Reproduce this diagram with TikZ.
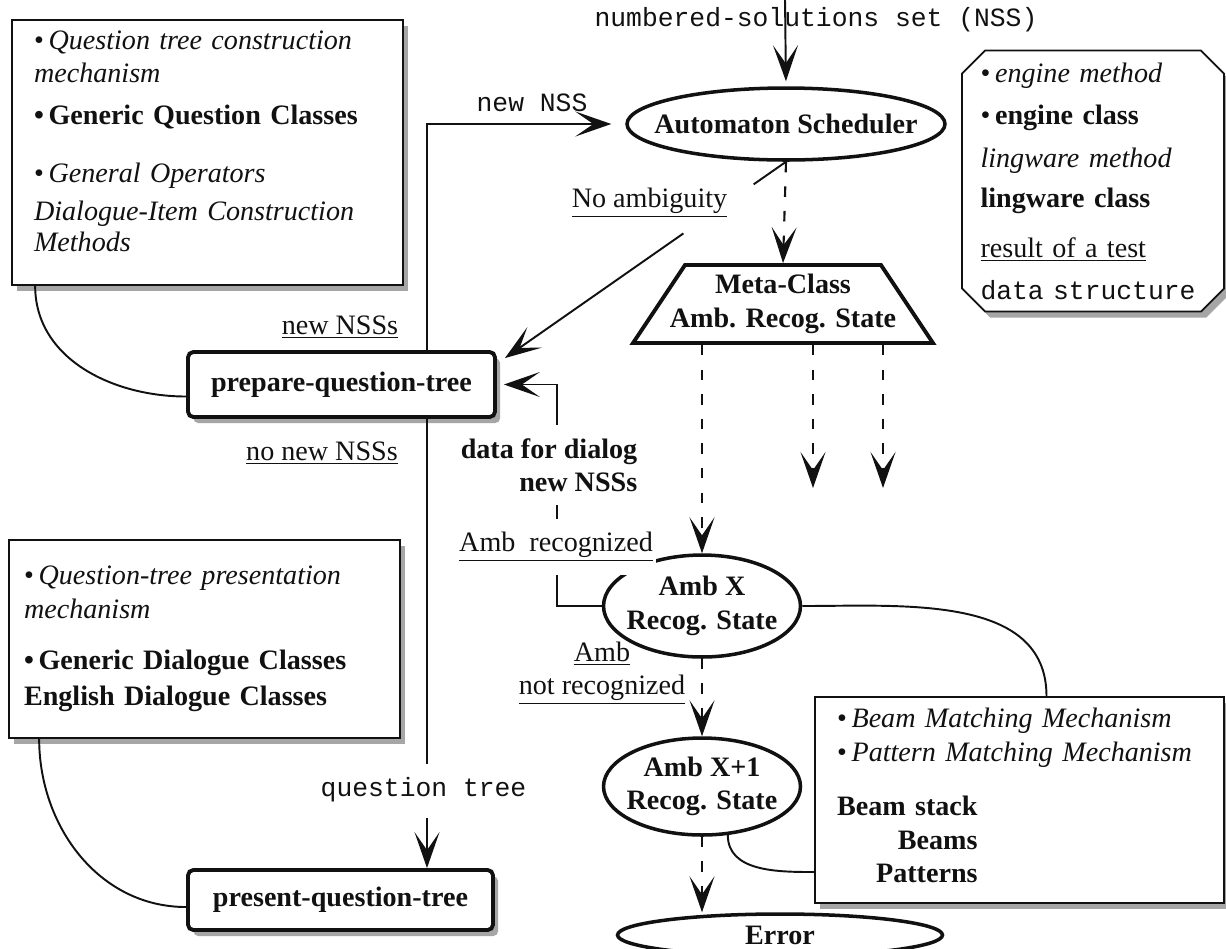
\documentclass[tikz,border=0pt]{standalone}
\usepackage{fontspec}
\setmainfont{Liberation Serif}
\setmonofont{Liberation Mono}
\usetikzlibrary{arrows.meta,calc,positioning,shapes.geometric,shapes.misc,shadows}
\definecolor{inkBlack}{HTML}{111111}
\definecolor{shadowGrey}{HTML}{a6a6a6}

\tikzset{
  txt/.style={font=\fontsize{16}{19}\selectfont, text=inkBlack},
  boldTxt/.style={font=\fontsize{16}{19}\selectfont\bfseries, text=inkBlack},
  monoTxt/.style={font=\fontsize{15}{18}\selectfont\ttfamily, text=inkBlack, inner sep=1pt},
  boxShadow/.style={drop shadow={shadow xshift=3pt, shadow yshift=-3.5pt, opacity=1, fill=shadowGrey}},
  noteBox/.style={txt, draw=inkBlack, line width=1pt, fill=white, boxShadow, align=left, inner ysep=0pt},
  procBox/.style={boldTxt, draw=inkBlack, line width=2.2pt, rounded corners=3pt, fill=white, boxShadow},
  stateEll/.style={ellipse, boldTxt, draw=inkBlack, line width=2pt, inner sep=-1cm, align=center, fill=white},
  lbl/.style={txt, inner sep=1pt},
  link/.style={draw=inkBlack, line width=1.1pt},
  arr/.style={link, -{Stealth[length=0.72cm, width=0.5cm, inset=0.36cm]}},
  dashArr/.style={arr, line width=1.2pt, dash pattern=on 6pt off 8pt},
}

\begin{document}
\begin{tikzpicture}[x=0.02cm, y=-0.02cm]
\path[use as bounding box, fill=white] (0,0) rectangle (1226,948);

\node[noteBox, text width=6.94cm, inner xsep=0.44cm, minimum height=5.3cm] (qtc) at (207.5,152.5) {%
\textbullet\,\textit{Question tree construction}\\
\textit{mechanism}\\[4.8pt]
\textbf{\textbullet\,Generic Question Classes}\\[13.9pt]
\textbullet\,\textit{General Operators}\\[2.5pt]
\textit{Dialogue-Item Construction}\\[-1.4pt]
\textit{Methods}\\[-6pt]\mbox{}};

\node[noteBox, text width=7.22cm, inner xsep=0.3cm, minimum height=3.96cm] (qtp) at (204.5,639) {%
\textbullet\,\textit{Question-tree presentation}\\
\textit{mechanism}\\[10.5pt]
\textbf{\textbullet\,Generic Dialogue Classes}\\[1.4pt]
\textbf{English Dialogue Classes}};

\node[noteBox, text width=7.3cm, inner xsep=0.44cm, minimum height=4.12cm] (beam) at (1019.5,800) {%
\textbullet\,\textit{Beam Matching Mechanism}\\[0.8pt]
\textbullet\,\textit{Pattern Matching Mechanism}\\[11.6pt]
\textbf{\begin{tabular}[t]{@{}r@{}}Beam stack\\Beams\\Patterns\end{tabular}}};

\node[noteBox, chamfered rectangle, chamfered rectangle xsep=0.22cm, chamfered rectangle ysep=0.24cm,
      text width=4.5cm, inner xsep=0.15cm, minimum height=4.88cm] (legend) at (1093,181) {%
\textbullet\,\textit{engine method}\\[5.4pt]
\textbullet\,\textbf{engine class}\\[5.4pt]
\textit{lingware method}\\[3.7pt]
\textbf{lingware class}\\[9.3pt]
\underline{result of a test}\\[4.8pt]
{\fontsize{15}{18}\selectfont\ttfamily data structure}};

\node[procBox, minimum width=6.14cm, minimum height=1.3cm] (prep) at (341.5,384.5) {prepare-question-tree};
\node[procBox, minimum width=6.1cm, minimum height=1.2cm] (present) at (340.5,900) {present-question-tree};

\node[stateEll, minimum width=6.36cm, minimum height=1.44cm] (sched) at (786,124) {Automaton Scheduler};
\node[trapezium, trapezium left angle=56, trapezium right angle=56, trapezium stretches body,
      boldTxt, align=center, draw=inkBlack, line width=2.2pt, fill=white,
      inner xsep=-0.4cm, inner ysep=0.18cm, minimum width=6cm, minimum height=1.56cm] (meta) at (783,304) {Meta-Class\\Amb. Recog. State};
\node[stateEll, minimum width=3.94cm, minimum height=2.04cm] (ambx) at (702,606) {Amb X\\Recog. State};
\node[stateEll, minimum width=3.94cm, minimum height=1.94cm] (ambx1) at (702,786.5) {Amb X+1\\Recog. State};
\node[stateEll, minimum width=6.5cm, minimum height=0.84cm] (err) at (780,935) {Error};

\node[monoTxt] (nsslbl) at (816,20) {numbered-solutions set (NSS)};
\node[monoTxt] (newnss) at (532,103) {new NSS};
\node[monoTxt] (qtree) at (423.5,790) {question tree};
\node[lbl] (noamb) at (649.5,203) {\underline{No ambiguity}};
\node[lbl] (newnsss) at (340,327) {\underline{new NSSs}};
\node[lbl] (nonew) at (322,453) {\underline{no new NSSs}};
\node[lbl, align=center] (ambnot) at (602,673) {\underline{Amb}\\\underline{not recognized}};

\coordinate (nsstop) at (785,0);
\coordinate (qtend) at (427,764);
\coordinate (qtstart) at (427,818);
\coordinate (outa) at (813,488);
\coordinate (outb) at (883,488);
\coordinate (dlgturn) at (557,606);

\draw[arr, shorten >=0.1cm] (nsstop) -- (sched.north);
\draw[arr, shorten >=0.28cm] (prep.north -| qtend) |- (sched.west);
\draw[link] (prep.south -| qtend) -- (qtend);
\draw[arr] (qtstart) -- (present.north -| qtstart);

\path (sched.south) -- coordinate[pos=0.115] (na1) coordinate[pos=0.365] (na2) ($(prep.north east)+(8,8)$);
\draw[link] (sched.south) -- (na1);
\draw[arr] (na2) -- ($(prep.north east)+(8,8)$);

\draw[dashArr] (sched.south) -- (meta.north);
\draw[dashArr] (meta.south -| ambx) -- (ambx.north);
\draw[dashArr] (meta.south -| outa) -- (outa);
\draw[dashArr] (meta.south -| outb) -- (outb);
\draw[dashArr] (ambx.south) -- (ambx1.north);
\draw[dashArr] (ambx1.south) -- (ambx1.south |- err.north);

\draw[link] ($(qtc.south west)+(24,0)$) to[out=-90, in=180] ($(prep.west)+(0,12)$);
\draw[link] ($(qtp.south west)+(31,0)$) to[out=-90, in=180] ($(present.west)+(0,7)$);
\draw[link] (ambx.east) to[out=0, in=90] ($(beam.north)+(27,0)$);
\draw[link] (ambx1.-62) to[out=-90, in=180] ($(beam.west)+(0,72)$);

\draw[arr] (ambx.west) -- (dlgturn) |- ($(prep.east)+(7,0)$);
\node[lbl, boldTxt, align=right, fill=white, inner xsep=2pt, inner ysep=0.26cm] (dlg) at (549,465) {data for dialog\\new NSSs};
\node[lbl, fill=white, inner xsep=2pt, inner ysep=0.26cm] (ambrec) at (556,547) {\underline{Amb\ \ recognized}};
\end{tikzpicture}
\end{document}
